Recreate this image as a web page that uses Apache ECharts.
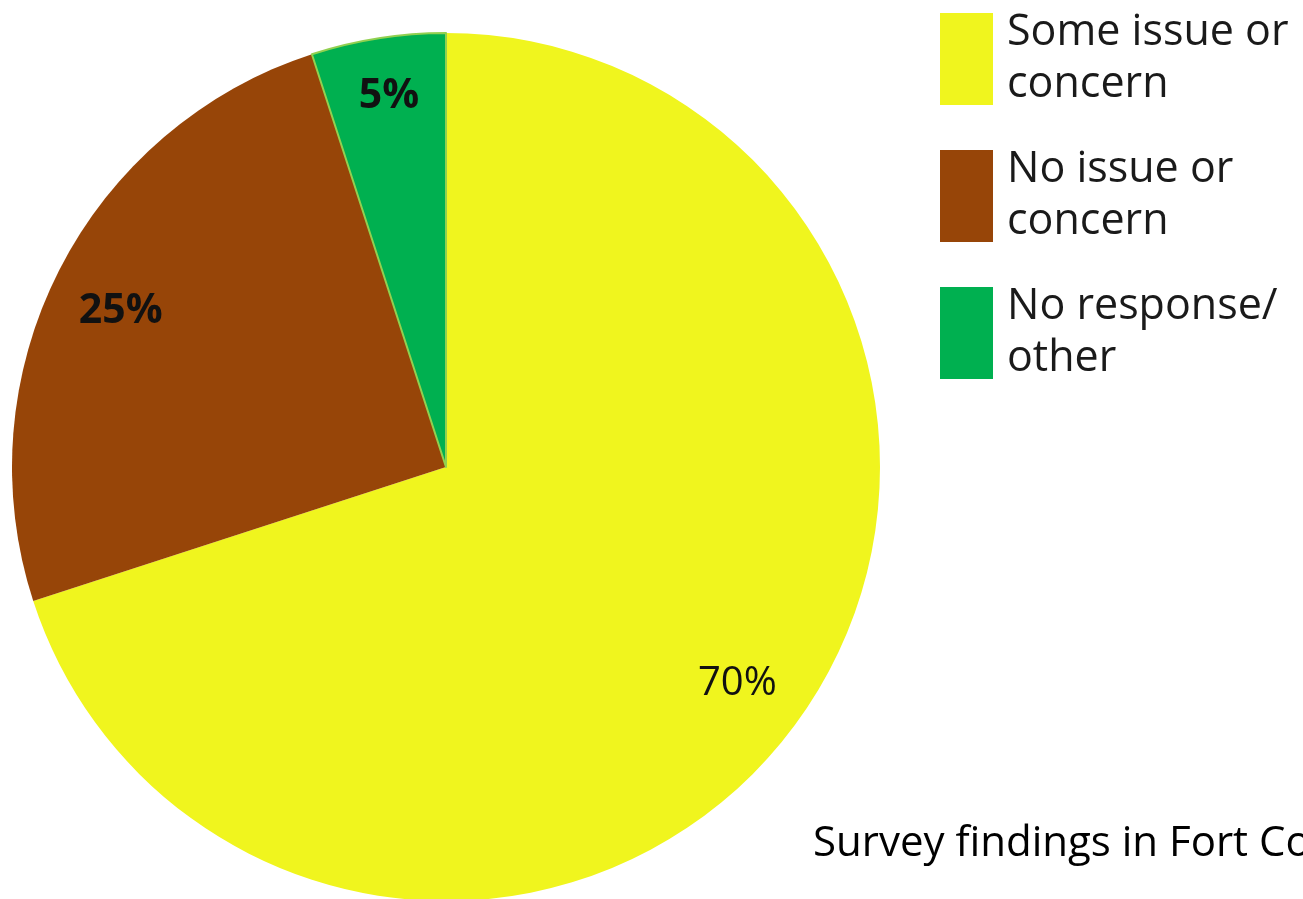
<!DOCTYPE html>
<html>
<head>
<meta charset="utf-8">
<script src="https://cdn.jsdelivr.net/npm/echarts@6/dist/echarts.min.js"></script>
<style>
html,body{margin:0;padding:0;background:#fff;}
#c{width:1303px;height:899px;}
</style>
</head>
<body>
<div id="c"></div>
<script>
const categories = ['Some issue or\nconcern', 'No issue or\nconcern', 'No response/\nother'];
const values = [70, 25, 5];
const labels = ['70%', '25%', '5%'];
const colors = ['#F0F51E', '#974508', '#00B050'];
const caption = 'Survey findings in Fort Collins';

const chart = echarts.init(document.getElementById('c'), null, {renderer: 'canvas'});

const mainData = categories.map((n, i) => ({
  name: n, value: values[i],
  itemStyle: i === 2 ? {color: colors[i], borderColor: '#92D050', borderWidth: 2} : {color: colors[i]}
}));
const labelShift = [[-4, 2], [0, 10], [0, -10]];
const labelData = categories.map((n, i) => ({
  name: n, value: values[i],
  label: {
    formatter: labels[i],
    fontWeight: i === 0 ? 'normal' : 'bold',
    fontSize: i === 0 ? 40 : 41
  }
}));

chart.setOption({
  backgroundColor: '#ffffff',
  animation: false,
  legend: {
    orient: 'vertical',
    left: 935,
    top: 2,
    icon: 'rect',
    itemWidth: 53,
    itemHeight: 92,
    itemGap: 33,
    data: categories,
    selectedMode: false,
    itemStyle: {borderWidth: 0},
    textStyle: {
      fontFamily: 'Open Sans',
      fontSize: 43,
      lineHeight: 52,
      color: '#1a1a1a',
      padding: [0, 0, 0, 9]
    }
  },
  graphic: [{
    type: 'text',
    left: 813,
    top: 823,
    style: {
      text: caption,
      font: '42px "Open Sans"',
      fill: '#000'
    }
  }],
  series: [
    {
      type: 'pie',
      center: [446, 467],
      radius: [0, 434],
      startAngle: 90,
      clockwise: true,
      silent: true,
      label: {show: false},
      labelLine: {show: false},
      data: mainData
    },
    {
      type: 'pie',
      center: [446, 467],
      radius: [290, 434],
      startAngle: 90,
      clockwise: true,
      silent: true,
      itemStyle: {color: 'rgba(0,0,0,0)'},
      label: {
        show: true,
        position: 'inside',
        fontFamily: 'Open Sans',
        color: '#111'
      },
      labelLayout: function (p) {
        const s = labelShift[p.dataIndex];
        return {dx: s[0], dy: s[1]};
      },
      labelLine: {show: false},
      data: labelData
    }
  ]
});
</script>
</body>
</html>
